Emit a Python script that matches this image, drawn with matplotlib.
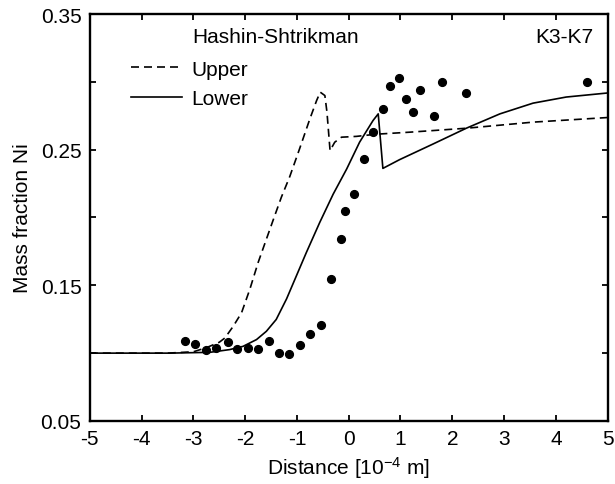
import matplotlib
matplotlib.use("Agg")
import matplotlib.pyplot as plt
from matplotlib.lines import Line2D

plt.rcParams['font.family'] = ['Liberation Sans', 'DejaVu Sans']
plt.rcParams['mathtext.fontset'] = 'custom'
plt.rcParams['mathtext.rm'] = 'Liberation Sans'
plt.rcParams['mathtext.it'] = 'Liberation Sans'
plt.rcParams['axes.unicode_minus'] = False
plt.rcParams['font.size'] = 15

# measured points
meas_x = [-3.17, -2.97, -2.76, -2.56, -2.34, -2.16, -1.95, -1.75, -1.54, -1.35,
          -1.15, -0.95, -0.75, -0.54, -0.35, -0.15, -0.08, 0.10, 0.29, 0.47,
          0.66, 0.80, 0.97, 1.11, 1.24, 1.37, 1.65, 1.81, 2.27, 4.60]
meas_y = [0.109, 0.107, 0.102, 0.104, 0.108, 0.103, 0.104, 0.103, 0.109, 0.100,
          0.099, 0.106, 0.114, 0.121, 0.155, 0.184, 0.205, 0.217, 0.243, 0.263,
          0.280, 0.297, 0.303, 0.287, 0.278, 0.294, 0.275, 0.300, 0.292, 0.300]

# Hashin-Shtrikman upper bound
upper_x = [-5.0, -3.5, -3.0, -2.75, -2.5, -2.39, -2.23, -2.07, -1.91, -1.75, -1.59,
           -1.43, -1.30, -1.14, -0.95, -0.75, -0.62, -0.55, -0.46, -0.42, -0.36,
           -0.27, -0.14, 0.15, 0.53, 1.18, 2.27, 3.56, 5.0]
upper_y = [0.100, 0.100, 0.101, 0.104, 0.108, 0.1112, 0.1198, 0.1297, 0.147, 0.1667, 0.184,
           0.2012, 0.2150, 0.2300, 0.2505, 0.2727, 0.2862, 0.2924, 0.2899, 0.2777, 0.2493,
           0.2555, 0.2592, 0.2598, 0.2614, 0.2629, 0.2658, 0.2703, 0.2737]

# Hashin-Shtrikman lower bound
lower_x = [-5.0, -3.46, -2.68, -2.30, -2.04, -1.78, -1.59, -1.40, -1.20, -1.01, -0.82,
           -0.56, -0.30, -0.04, 0.21, 0.47, 0.57, 0.66, 0.98, 1.63, 2.27, 2.92,
           3.56, 4.20, 5.0]
lower_y = [0.100, 0.100, 0.1006, 0.1026, 0.105, 0.110, 0.1161, 0.1248, 0.140, 0.157, 0.174,
           0.1963, 0.2172, 0.2357, 0.2555, 0.2715, 0.2764, 0.2362, 0.2426, 0.2542, 0.2658, 0.2764,
           0.2843, 0.2888, 0.2918]

y_ticks = [0.05, 0.10, 0.15, 0.20, 0.25, 0.30, 0.35]
y_labels = ['0.05', '', '0.15', '', '0.25', '', '0.35']

fig = plt.figure(figsize=(6.15, 4.85), dpi=100)
ax = fig.add_axes([0.146, 0.130, 0.842, 0.839])

dash = (0, (4.8, 3.0))
ax.plot(upper_x, upper_y, color='black', lw=1.2, linestyle=dash)
ax.plot(lower_x, lower_y, color='black', lw=1.2)
ax.plot(meas_x, meas_y, 'o', color='black', ms=5.6, mec='black')

ax.set_xlim(-5, 5)
ax.set_ylim(0.05, 0.35)
ax.set_xticks(range(-5, 6))
ax.set_yticks(y_ticks)
ax.set_yticklabels(y_labels)
ax.tick_params(direction='in', length=4, width=1.3, top=True, right=True, pad=6)
for s in ax.spines.values():
    s.set_linewidth(1.7)

ax.set_xlabel('Distance [10$^{-4}$ m]', labelpad=4)
ax.set_ylabel('Mass fraction Ni', labelpad=6)

ax.text(-3.03, 0.3334, 'Hashin-Shtrikman', ha='left', va='center')
ax.text(4.72, 0.3334, 'K3-K7', ha='right', va='center')

handles = [Line2D([], [], color='black', lw=1.2, linestyle=dash),
           Line2D([], [], color='black', lw=1.2)]
ax.legend(handles, ['Upper', 'Lower'], loc='upper left', frameon=False,
          bbox_to_anchor=(0.079, 0.888), handlelength=2.45, handletextpad=0.45,
          labelspacing=0.5, borderaxespad=0, borderpad=0)

fig.savefig('out.png', dpi=100)
